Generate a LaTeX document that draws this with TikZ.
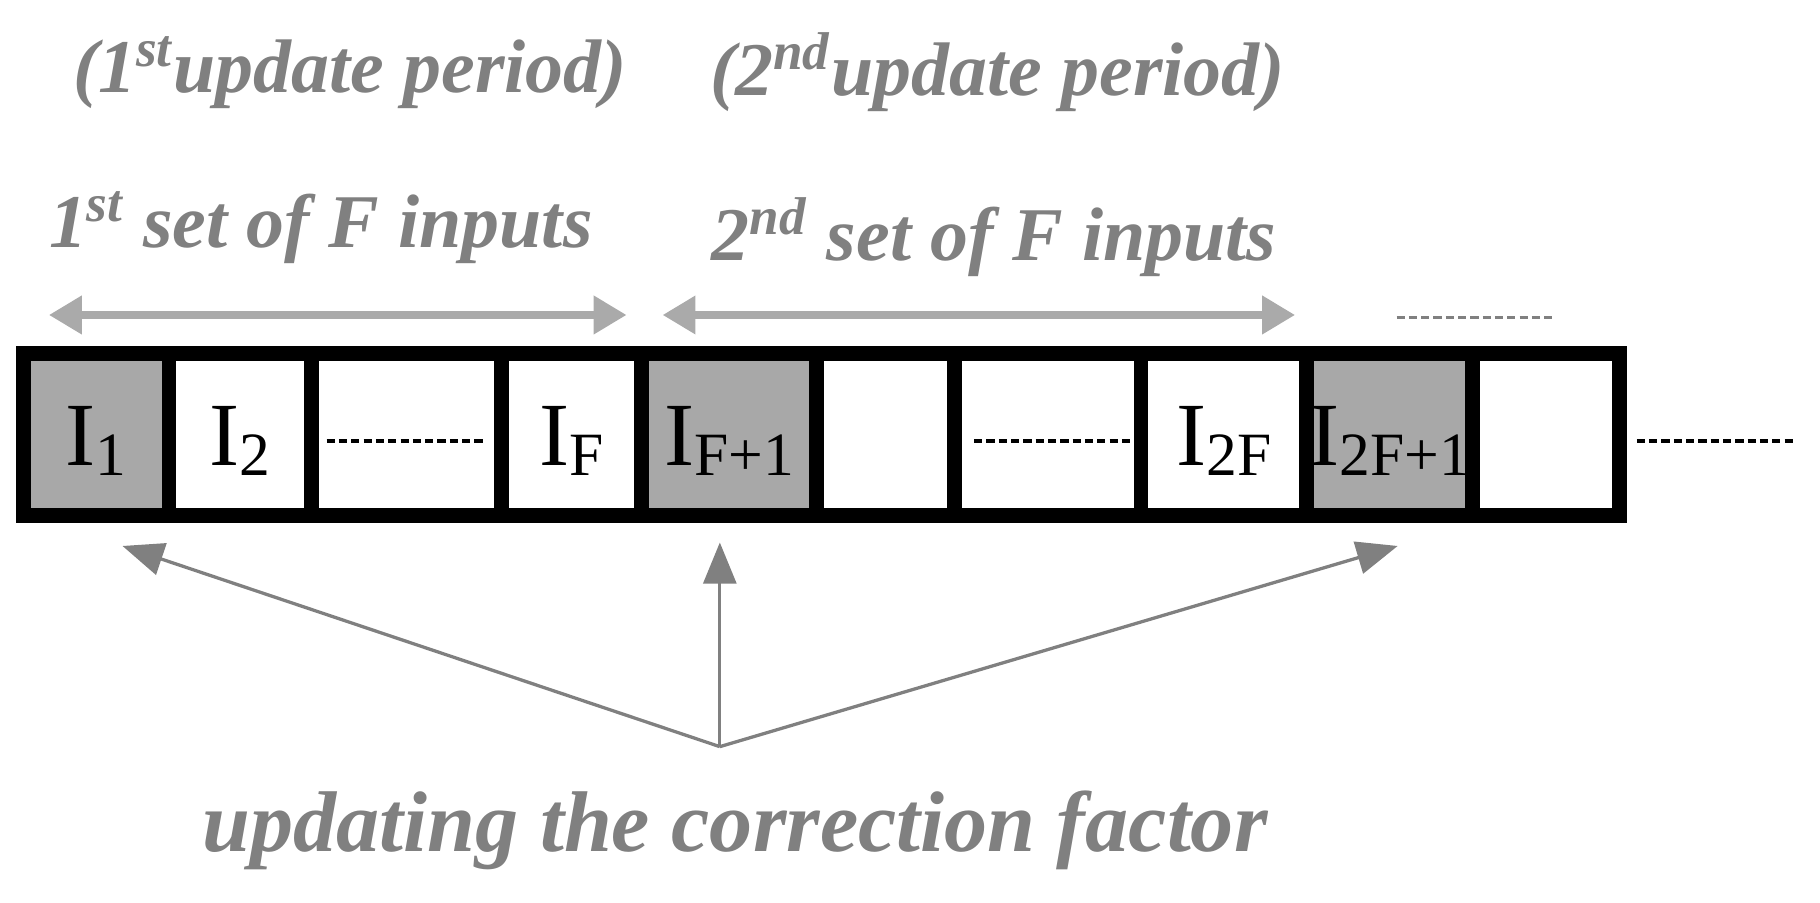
\documentclass[tikz,border=0pt]{standalone}
\usepackage{fontspec}
\setmainfont{Liberation Serif}
\usetikzlibrary{arrows.meta}
\definecolor{lg}{RGB}{128,128,128}
\definecolor{ag}{RGB}{170,170,170}
\definecolor{fg}{RGB}{168,168,168}
\newcommand{\cellsub}[1]{\raisebox{-0.25ex}{\fontsize{15}{18}\selectfont #1}}
\begin{document}
\begin{tikzpicture}[x=0.01cm,y=-0.01cm,
  lab/.style={text=lg,font=\fontsize{18.5}{22}\selectfont\bfseries\itshape},
  cell/.style={font=\fontsize{22}{26}\selectfont,inner sep=0pt},
  dar/.style={ag,line width=1.8pt,{Triangle[width=9pt,length=8pt]}-{Triangle[width=9pt,length=8pt]}},
  uar/.style={lg,line width=0.8pt,-{Triangle[width=8pt,length=10pt]}},
  dsh/.style={line width=0.8pt,dash pattern=on 2pt off 1pt}]
\useasboundingbox (0,0) rectangle (1560,774);
\fill[fg] (20,300) rectangle (145,445);
\fill[fg] (550,300) rectangle (700,445);
\fill[fg] (1120,300) rectangle (1262,445);
\draw[line width=3.5pt] (20,303) rectangle (1388,442);
\foreach \x in {145,267,430,550,700,818,978,1120,1262} \draw[line width=3.5pt] (\x,303)--(\x,442);
\node[cell] (c1) at (82,378) {I\cellsub{1}};
\node[cell] (c2) at (206,378) {I\cellsub{2}};
\node[cell] (cF) at (490,378) {I\cellsub{F}};
\node[cell] (cF1) at (625,378) {I\cellsub{F+1}};
\node[cell] (c2F) at (1049,378) {I\cellsub{2F}};
\node[cell] (c2F1) at (1191,378) {I\cellsub{2F+1}};
\draw[dsh] (280,378)--(416,378);
\draw[dsh] (835,378)--(972,378);
\draw[dsh] (1403,378)--(1540,378);
\draw[dsh,lg] (1197,272)--(1333,272);
\coordinate (a1) at (42,270); \coordinate (a2) at (537,270);
\coordinate (b1) at (568,270); \coordinate (b2) at (1110,270);
\draw[dar] (a1)--(a2);
\draw[dar] (b1)--(b2);
\node[lab] (p1) at (300,62) {(1\textsuperscript{st}update period)};
\node[lab] (p2) at (855,62) {(2\textsuperscript{nd}update period)};
\node[lab] (s1) at (275,195) {1\textsuperscript{st} set of F inputs};
\node[lab] (s2) at (852,203) {2\textsuperscript{nd} set of F inputs};
\node[lab,font=\fontsize{21}{25}\selectfont\bfseries\itshape] (u) at (630,712) {updating the correction factor};
\coordinate (o) at (617,640);
\coordinate (t1) at (105,468); \coordinate (t2) at (617,465); \coordinate (t3) at (1198,468);
\draw[uar] (o)--(t1);
\draw[uar] (o)--(t2);
\draw[uar] (o)--(t3);
\end{tikzpicture}
\end{document}
